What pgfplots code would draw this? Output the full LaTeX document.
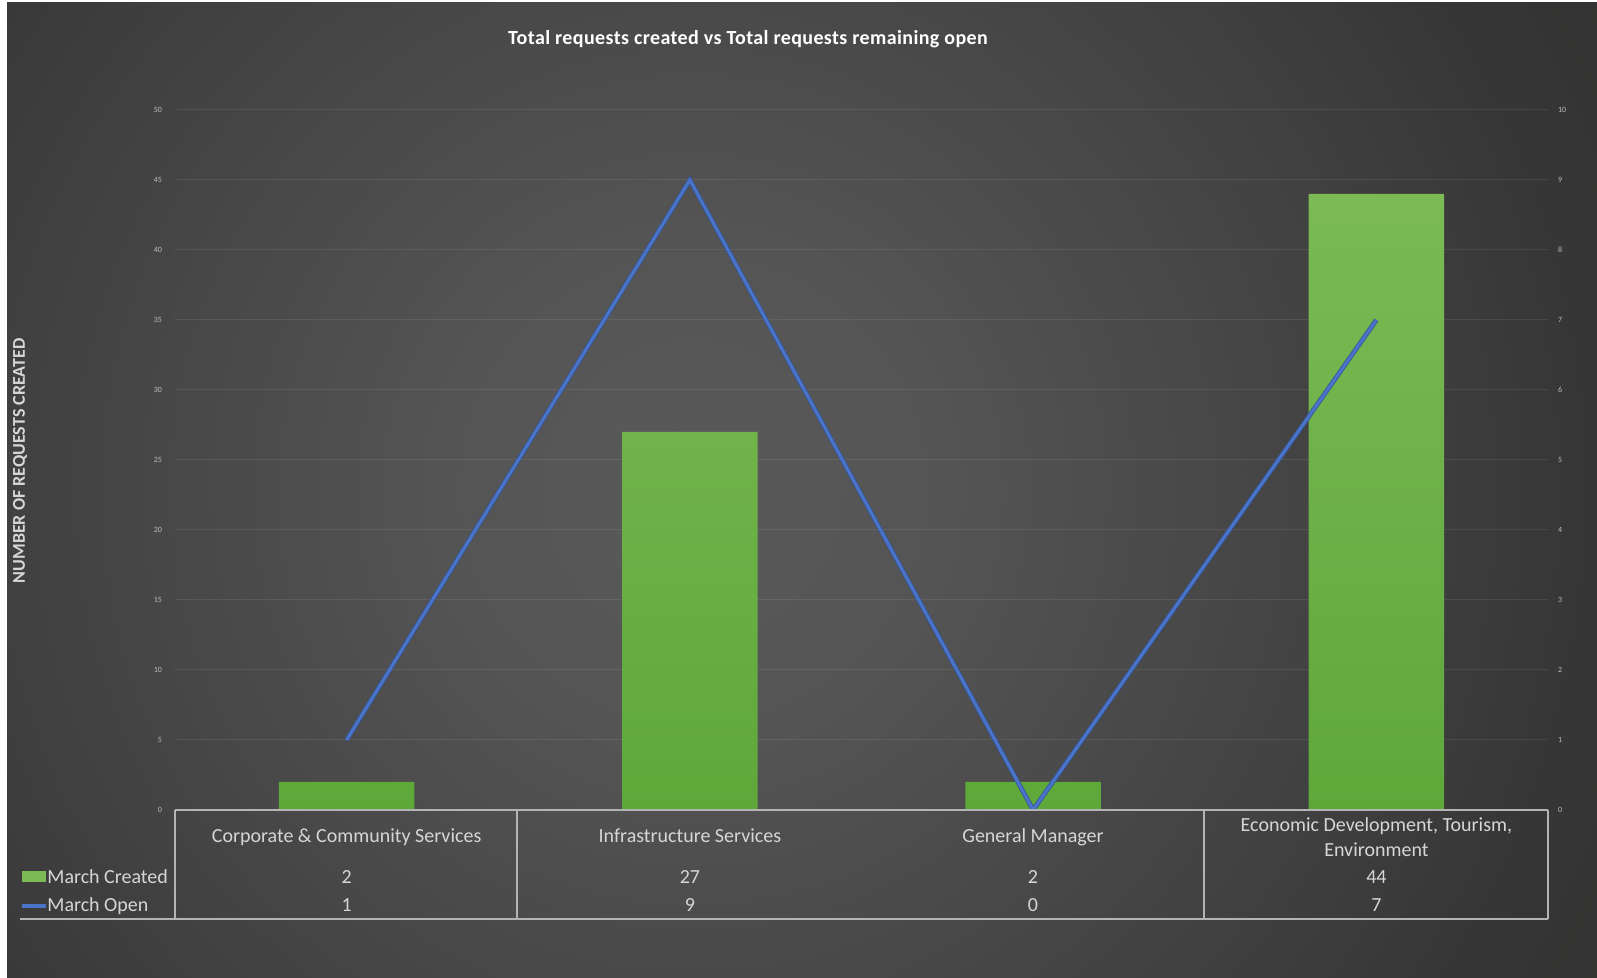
\documentclass[border=0pt]{standalone}
\usepackage{pgfplots}
\pgfplotsset{compat=1.18}
\usepackage{pgfplotstable}
\usepackage{fontspec}
\setmainfont{Carlito}

% colours
\definecolor{bgA}{HTML}{5A5A5A}
\definecolor{bgB}{HTML}{545454}
\definecolor{bgC}{HTML}{4B4B4B}
\definecolor{bgD}{HTML}{414141}
\definecolor{bgE}{HTML}{363636}
\definecolor{bgF}{HTML}{2E2F2D}
\definecolor{bgG}{HTML}{2A2B29}
\definecolor{bgH}{HTML}{282827}
\definecolor{barTop}{HTML}{7BBA55}
\definecolor{barBot}{HTML}{5EA83A}
\definecolor{lineBlue}{HTML}{4A74C8}
\definecolor{lineEdge}{HTML}{33549A}
\definecolor{tickGray}{HTML}{BDBDBD}
\definecolor{textGray}{HTML}{D6D6D6}
\definecolor{ruleGray}{HTML}{B4B4B4}

\pgfdeclareradialshading{glow}{\pgfpoint{0bp}{0bp}}{%
  color(0bp)=(bgA); color(6.3bp)=(bgB); color(10.9bp)=(bgC);
  color(16.3bp)=(bgD); color(21.8bp)=(bgE); color(29bp)=(bgF);
  color(39bp)=(bgG); color(50bp)=(bgH)}

% requests per department
\pgfplotstableread{
idx created open
0   2       1
1   27      9
2   2       0
3   44      7
}\reqdata

\begin{document}
\begin{tikzpicture}[x=0.5pt,y=0.5pt]
\useasboundingbox (0,0) rectangle (1597,978);
\fill[white] (0,0) rectangle (1597,978);
\begin{scope}
  \clip (7,0) rectangle (1597,975);
  \fill[bgH] (7,0) rectangle (1597,975);
  \shade[shading=glow] (693,489) circle (1030);
\end{scope}

% created requests (left scale)
\begin{axis}[
  at={(87.5pt,84pt)}, anchor=south west,
  width=686.5pt, height=350pt, scale only axis,
  xmin=-0.5, xmax=3.5, ymin=0, ymax=50,
  ytick={0,5,...,50}, xtick=\empty,
  axis line style={draw=none},
  major tick length=0pt,
  ymajorgrids,
  grid style={white, opacity=0.08, line width=0.5pt},
  yticklabel style={font=\fontsize{4}{5}\selectfont, text=tickGray, xshift=-3pt},
  /pgf/number format/assume math mode=true,
  ybar, bar width=0.395,
]
\addplot[draw=none, top color=barTop, bottom color=barBot]
  table[x=idx, y=created] {\reqdata};
\end{axis}

% open requests (right scale)
\begin{axis}[
  at={(87.5pt,84pt)}, anchor=south west,
  width=686.5pt, height=350pt, scale only axis,
  xmin=-0.5, xmax=3.5, ymin=0, ymax=10,
  ytick={0,1,...,10}, xtick=\empty,
  axis y line*=right, axis x line=none,
  axis line style={draw=none},
  major tick length=0pt,
  yticklabel style={font=\fontsize{4}{5}\selectfont, text=tickGray, xshift=1.5pt},
  /pgf/number format/assume math mode=true,
]
\addplot[lineEdge, line width=2.3pt, mark=none, line join=miter]
  table[x=idx, y=open] {\reqdata};
\addplot[lineBlue, line width=1.5pt, mark=none, line join=miter]
  table[x=idx, y=open] {\reqdata};
\end{axis}

% title and axis label
\node[font=\bfseries\fontsize{10}{12}\selectfont\addfontfeature{LetterSpace=2}, text=white] at (748,939)
  {Total requests created vs Total requests remaining open};
\node[rotate=90, font=\bfseries\fontsize{9}{11}\selectfont, text=textGray] at (20,517)
  {NUMBER OF REQUESTS CREATED};

% data table
\draw[ruleGray, line width=0.8pt] (175,168) -- (1548,168);
\draw[ruleGray, line width=0.8pt] (20,59) -- (1548,59);
\foreach \xx in {175,517,1204,1548}
  \draw[ruleGray, line width=0.8pt] (\xx,59) -- (\xx,168);

\begin{scope}[every node/.style={font=\fontsize{10}{12.5}\selectfont, text=textGray, inner sep=0pt,
    text height=7pt, text depth=2pt}]
  \node at (346.6,140) {Corporate \& Community Services};
  \node at (689.9,140) {Infrastructure Services};
  \node at (1033,140) {General Manager};
  \node[align=center, text height=, text depth=] at (1376.4,141) {Economic Development, Tourism,\\Environment};
  \node at (346.6,99) {2};
  \node at (689.9,99) {27};
  \node at (1033,99) {2};
  \node at (1376.4,99) {44};
  \node at (346.6,71) {1};
  \node at (689.9,71) {9};
  \node at (1033,71) {0};
  \node at (1376.4,71) {7};
  % legend keys
  \fill[barTop] (22,96) rectangle (46,107);
  \draw[lineBlue, line width=2pt] (22,72) -- (46,72);
  \node[anchor=west] at (47,99) {March Created};
  \node[anchor=west] at (47,71) {March Open};
\end{scope}
\end{tikzpicture}
\end{document}
